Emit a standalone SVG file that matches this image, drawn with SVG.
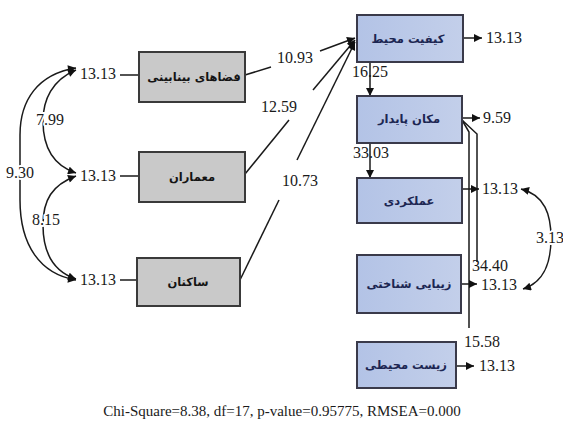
<svg xmlns="http://www.w3.org/2000/svg" width="563" height="423" viewBox="0 0 563 423">
<defs>
<marker id="ah" viewBox="0 0 10 10" refX="10" refY="5" markerWidth="9" markerHeight="8" markerUnits="userSpaceOnUse" orient="auto-start-reverse"><path d="M0,0 L10,5 L0,10 z" fill="#111"/></marker>
<linearGradient id="blue" x1="0" x2="1" y1="0" y2="0"><stop offset="0" stop-color="#b3c3e6"/><stop offset="1" stop-color="#c3cfea"/></linearGradient>
</defs>
<style>
.gbox{fill:#c9c9c9;stroke:#3a3a3a;stroke-width:2}
.bbox{fill:url(#blue);stroke:#3a3a4a;stroke-width:2}
.fa{font-family:"DejaVu Sans",sans-serif;font-weight:bold;font-size:11.5px;text-anchor:middle}
.fg{fill:#141414}
.fb{fill:#1c2652}
.lbl{font-family:"Liberation Serif","Times New Roman",serif;font-size:16px;fill:#1a1a1a}
.halo{stroke:#fff;stroke-width:4;paint-order:stroke}
.c{fill:none;stroke:#1a1a1a;stroke-width:1.5}
</style>
<rect width="563" height="423" fill="#fff"/>
<g id="connectors">
<path class="c" d="M120,75 L138,75"/>
<path class="c" d="M120,176 L138,176"/>
<path class="c" d="M120,280 L137,280"/>
<path class="c" d="M245,75 L271,67"/>
<path class="c" d="M320,51 L355,38" marker-end="url(#ah)"/>
<path class="c" d="M245,174 L289,120"/>
<path class="c" d="M313,90 L355,40" marker-end="url(#ah)"/>
<path class="c" d="M240,280 L279,200"/>
<path class="c" d="M297,160 L355,42" marker-end="url(#ah)"/>
<path class="c" d="M76,70 C52,80 43,100 43,121 C43,145 52,165 76,173" marker-start="url(#ah)" marker-end="url(#ah)"/>
<path class="c" d="M76,68 C38,74 20,100 20,135 L20,200 C20,245 40,274 76,280" marker-start="url(#ah)" marker-end="url(#ah)"/>
<path class="c" d="M76,176 C52,185 43,200 43,225 C43,255 55,272 76,279" marker-start="url(#ah)" marker-end="url(#ah)"/>
<path class="c" d="M463,38 L482,38" marker-end="url(#ah)"/>
<path class="c" d="M370,62 L370,96" marker-end="url(#ah)"/>
<path class="c" d="M370,143 L370,178" marker-end="url(#ah)"/>
<path class="c" d="M462,118 L480,118" marker-end="url(#ah)"/>
<path class="c" d="M462,120 L469,132 L469,328"/>
<path class="c" d="M462,120 L477,134 L477,262"/>
<path class="c" d="M462,189 L479,189" marker-end="url(#ah)"/>
<path class="c" d="M461,284 L477,284" marker-end="url(#ah)"/>
<path class="c" d="M456,366 L474,366" marker-end="url(#ah)"/>
<path class="c" d="M521,189 C545,195 551,215 551,238 C551,262 545,282 523,289" marker-start="url(#ah)" marker-end="url(#ah)"/>
</g>
<g id="labels">
<text class="lbl" x="80" y="79">13.13</text>
<text class="lbl" x="80" y="181">13.13</text>
<text class="lbl" x="80" y="285">13.13</text>
<text class="lbl halo" x="36" y="125">7.99</text>
<text class="lbl halo" x="6" y="178">9.30</text>
<text class="lbl halo" x="32" y="225">8.15</text>
<text class="lbl" x="277" y="63">10.93</text>
<text class="lbl" x="261" y="112">12.59</text>
<text class="lbl" x="282" y="186">10.73</text>
<text class="lbl" x="486" y="43">13.13</text>
<text class="lbl" x="352" y="77">16.25</text>
<text class="lbl" x="353" y="158">33.03</text>
<text class="lbl" x="483" y="123">9.59</text>
<text class="lbl" x="482" y="194">13.13</text>
<text class="lbl" x="472" y="271">34.40</text>
<text class="lbl" x="481" y="290">13.13</text>
<text class="lbl" x="464" y="347">15.58</text>
<text class="lbl" x="479" y="371">13.13</text>
<text class="lbl halo" x="536" y="243">3.13</text>
</g>
<g id="node-fazaha"><rect class="gbox" x="139" y="52" width="106" height="50"/><text class="fa fg" x="194" y="81">فضاهای بینابینی</text></g>
<g id="node-memaran"><rect class="gbox" x="139" y="152" width="106" height="50"/><text class="fa fg" x="192" y="181">معماران</text></g>
<g id="node-sakenan"><rect class="gbox" x="137" y="258" width="103" height="48"/><text class="fa fg" x="188" y="286">ساکنان</text></g>
<g id="node-keyfiyat"><rect class="bbox" x="357" y="15" width="106" height="47"/><text class="fa fb" x="408" y="43">کیفیت محیط</text></g>
<g id="node-makan"><rect class="bbox" x="357" y="96" width="105" height="47"/><text class="fa fb" x="409" y="123">مکان پایدار</text></g>
<g id="node-amalkardi"><rect class="bbox" x="357" y="178" width="105" height="45"/><text class="fa fb" x="409" y="205">عملکردی</text></g>
<g id="node-zibayi"><rect class="bbox" x="357" y="255" width="104" height="58"/><text class="fa fb" x="409" y="288">زیبایی شناختی</text></g>
<g id="node-zist"><rect class="bbox" x="357" y="342" width="99" height="46"/><text class="fa fb" x="406" y="369">زیست محیطی</text></g>
<text class="lbl" x="282" y="416" text-anchor="middle" style="font-size:15px">Chi-Square=8.38, df=17, p-value=0.95775, RMSEA=0.000</text>
</svg>
